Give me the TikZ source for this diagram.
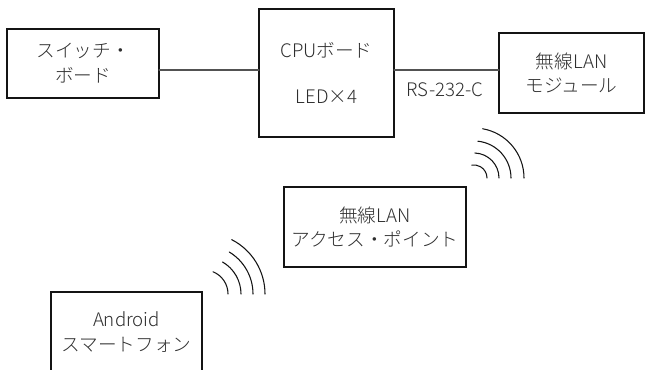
\documentclass[tikz,border=0pt]{standalone}
\usepackage{fontspec}
\setmainfont{Noto Sans CJK JP}[UprightFont={* Light}]
\usetikzlibrary{calc}
\definecolor{SysInk}{gray}{0.08}
\definecolor{SysLink}{gray}{0.32}
\definecolor{SysText}{gray}{0.18}
\tikzset{
    sys/diagram/.style={
        font=\fontsize{14}{18.5}\selectfont,
        text=SysText,
        line cap=round,
        line join=miter,
        every node/.style={inner sep=0pt, outer sep=0pt}
    },
    sys/block/.style={
        draw=SysInk, line width=1.3pt, fill=white, align=center
    },
    sys/link/.style={draw=SysLink, line width=0.8pt},
    sys/wave/.style={draw=SysInk, line width=0.8pt},
    sys/label/.style={inner sep=1pt}
}

\begin{document}
\begin{tikzpicture}[sys/diagram, x=0.75pt, y=-0.75pt]
    \clip (0,0) rectangle (646,370);
    \coordinate (bus) at (0,70);
    \node[sys/block, minimum width=114pt, minimum height=51.75pt]
        (switch) at (83,63.5) {スイッチ・\\ボード};
    \node[sys/block, minimum width=101.25pt, minimum height=96pt]
        (cpu) at (326.5,73) {CPUボード\\[16pt]LED×4};
    \node[sys/block, minimum width=108.75pt, minimum height=60pt]
        (wlan) at (571.5,73) {無線LAN\\モジュール};
    \node[sys/block, minimum width=136.5pt, minimum height=60pt]
        (ap) at (375,227) {無線LAN\\アクセス・ポイント};
    \node[sys/block, minimum width=113.25pt, minimum height=60pt]
        (phone) at (126.5,332) {Android\\スマートフォン};
    \draw[sys/link] (switch.east |- bus) -- (cpu.west |- bus);
    \draw[sys/link] (cpu.east |- bus) -- (wlan.west |- bus);
    \node[sys/label] (rs) at (445,90) {RS-232-C};
    % radio waves
    \coordinate (wave1) at (474,178);
    \coordinate (wave2) at (204,294);
    \foreach \r/\a in {13/100, 25/88, 37/84, 50/80}
        \draw[sys/wave] (wave1) ++(\r,0) arc[start angle=0, end angle=-\a, radius=\r];
    \foreach \r/\a in {24/68, 37/60, 49/59, 61/63}
        \draw[sys/wave] (wave2) ++(\r,0) arc[start angle=0, end angle=-\a, radius=\r];
\end{tikzpicture}
\end{document}
